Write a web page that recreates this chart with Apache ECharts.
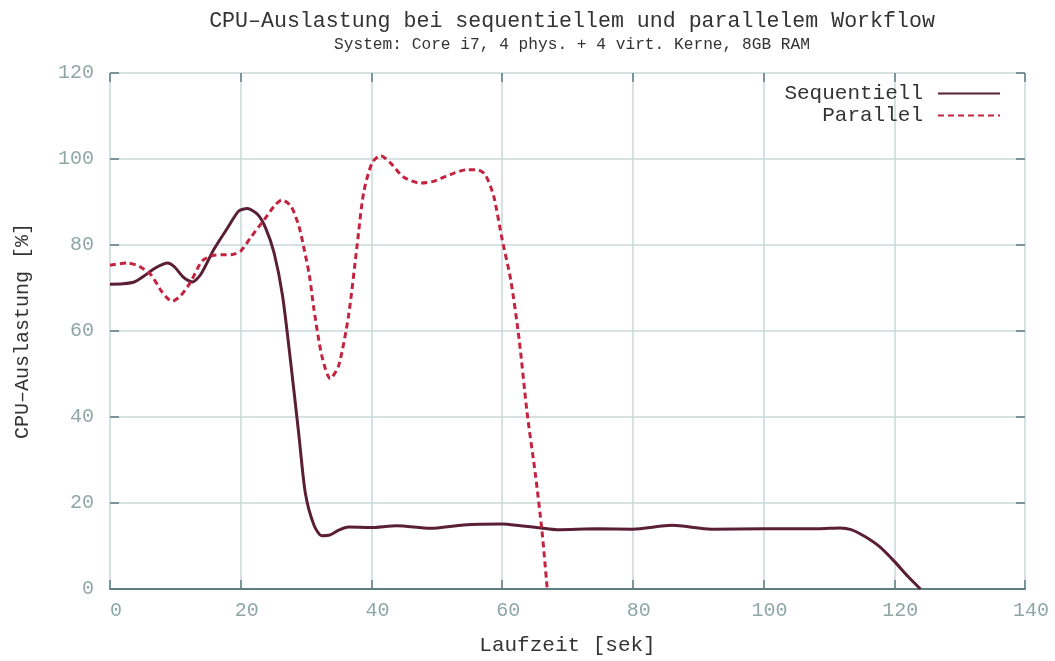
<!DOCTYPE html>
<html>
<head>
<meta charset="utf-8">
<script src="https://cdn.jsdelivr.net/npm/echarts@6/dist/echarts.min.js"></script>
<style>html,body{margin:0;padding:0;background:#fff}#c{width:1055px;height:661px}</style>
</head>
<body>
<div id="c"></div>
<script>
const titleText = 'CPU\u2013Auslastung bei sequentiellem und parallelem Workflow';
const subtitleText = 'System: Core i7, 4 phys. + 4 virt. Kerne, 8GB RAM';
const xName = 'Laufzeit [sek]';
const yName = 'CPU\u2013Auslastung [%]';
const seriesNames = ['Sequentiell', 'Parallel'];

const seqX = [0, 2, 3.7, 5.2, 7.0, 8.8, 9.8, 11.3, 12.6, 13.9, 15.9, 18.0, 19.7, 21.0, 22.6, 23.8, 25.1, 26.4, 27.7, 28.9, 29.9, 31.2, 32.4, 33.7, 35.0, 36.5, 39.8, 43.9, 49.0, 54.1, 60.0, 62.8, 65.9, 68.4, 74.6, 80.0, 86.0, 92.0, 100.0, 108.4, 111.7, 113.4, 115.5, 117.7, 119.9, 122.1, 124.0];
const seqY = [70.9, 71.0, 71.4, 72.8, 74.7, 75.8, 75.0, 72.4, 71.4, 73.2, 79.0, 84.0, 87.9, 88.5, 87.1, 84.0, 78.2, 68.2, 52.0, 35.8, 22.2, 14.9, 12.4, 12.6, 13.7, 14.4, 14.3, 14.7, 14.1, 14.9, 15.1, 14.7, 14.2, 13.8, 14.0, 13.9, 14.8, 13.9, 14.0, 14.0, 14.2, 13.8, 12.2, 9.9, 6.6, 2.9, 0];

const parX = [0, 2.7, 4.4, 6.2, 8.0, 9.5, 10.8, 12.3, 14.1, 15.9, 18.7, 20.0, 21.5, 23.6, 25.1, 26.3, 27.7, 28.9, 29.6, 30.5, 31.2, 32.4, 33.7, 35.0, 36.5, 37.8, 38.8, 40.1, 41.4, 42.9, 44.9, 47.5, 49.5, 52.1, 54.6, 56.2, 57.4, 58.7, 60.0, 61.3, 62.6, 63.8, 65.1, 66.1, 66.9];
const parY = [75.3, 75.8, 75.1, 73.2, 69.0, 66.9, 68.2, 71.3, 76.3, 77.6, 77.8, 78.6, 81.7, 85.9, 89.0, 90.5, 89.0, 84.4, 79.8, 73.0, 65.1, 54.3, 48.9, 52.0, 63.6, 79.8, 92.1, 99.1, 100.8, 99.1, 95.8, 94.4, 94.8, 96.4, 97.5, 97.5, 96.4, 91.4, 81.3, 72.0, 58.1, 41.2, 26.5, 13.4, 0];

const FONT = 'Liberation Mono';
const DARK = '#5d7e80';
const GRID = '#c9d9d9';
const LABEL = '#8fa6a6';
const TEXT = '#333333';
const SEQ_COLOR = '#5a1f35';
const PAR_COLOR = '#c4233f';

const pairs = (xs, ys) => xs.map((x, i) => [x, ys[i]]);

const chart = echarts.init(document.getElementById('c'), null, {renderer: 'canvas'});

const tick = () => ({show: true, inside: true, length: 9, lineStyle: {color: DARK, width: 1.5}});
const legendBase = (name, top) => ({
  data: [name], orient: 'vertical', right: 49, top: top, align: 'right',
  itemWidth: 62, itemHeight: 14,
  itemStyle: {opacity: 0, borderWidth: 0},
  textStyle: {fontFamily: FONT, fontSize: 21, color: TEXT, padding: [0, 10, 0, 0]}
});

chart.setOption({
  animation: false,
  backgroundColor: '#ffffff',
  title: [
    {text: titleText, left: 567, top: 5, textAlign: 'center',
     textStyle: {fontFamily: FONT, fontSize: 21.6, fontWeight: 'normal', color: TEXT}},
    {text: subtitleText, left: 567, top: 32, textAlign: 'center',
     textStyle: {fontFamily: FONT, fontSize: 16.2, fontWeight: 'normal', color: TEXT}}
  ],
  legend: [legendBase(seriesNames[0], 78), legendBase(seriesNames[1], 100)],
  grid: {left: 110, right: 30, top: 73, bottom: 70, containLabel: false},
  xAxis: [
    {type: 'value', min: 0, max: 140, interval: 20, position: 'bottom',
     name: xName, nameLocation: 'middle', nameGap: 46,
     nameTextStyle: {fontFamily: FONT, fontSize: 21, color: TEXT},
     axisLine: {show: true, onZero: false, lineStyle: {color: DARK, width: 2}},
     axisTick: tick(),
     axisLabel: {fontFamily: FONT, fontSize: 20, color: LABEL, margin: 12, padding: [0, 0, 0, 12]},
     splitLine: {show: true, lineStyle: {color: GRID, width: 1.5}}},
    {type: 'value', min: 0, max: 140, interval: 20, position: 'top', show: true,
     axisLine: {show: false, onZero: false}, axisTick: tick(), axisLabel: {show: false}, splitLine: {show: false}}
  ],
  yAxis: [
    {type: 'value', min: 0, max: 120, interval: 20, position: 'left',
     name: yName, nameLocation: 'middle', nameGap: 77, nameRotate: 90,
     nameTextStyle: {fontFamily: FONT, fontSize: 20, color: TEXT},
     axisLine: {show: false, onZero: false},
     axisTick: tick(),
     axisLabel: {fontFamily: FONT, fontSize: 20, color: LABEL, margin: 16},
     splitLine: {show: true, lineStyle: {color: GRID, width: 1.5}}},
    {type: 'value', min: 0, max: 120, interval: 20, position: 'right', show: true,
     axisLine: {show: false, onZero: false}, axisTick: tick(), axisLabel: {show: false}, splitLine: {show: false}}
  ],
  series: [
    {name: seriesNames[0], type: 'line', data: pairs(seqX, seqY), showSymbol: false, symbol: 'none',
     smooth: 0.25,
     lineStyle: {color: SEQ_COLOR, width: 3}, itemStyle: {color: SEQ_COLOR}, z: 3},
    {name: seriesNames[1], type: 'line', data: pairs(parX, parY), showSymbol: false, symbol: 'none',
     smooth: 0.25,
     lineStyle: {color: PAR_COLOR, width: 3, type: [6, 4]}, itemStyle: {color: PAR_COLOR}, z: 4},
    {name: 'frame', type: 'line', xAxisIndex: 1, yAxisIndex: 1, data: [], silent: true, symbol: 'none'}
  ]
});
</script>
</body>
</html>
